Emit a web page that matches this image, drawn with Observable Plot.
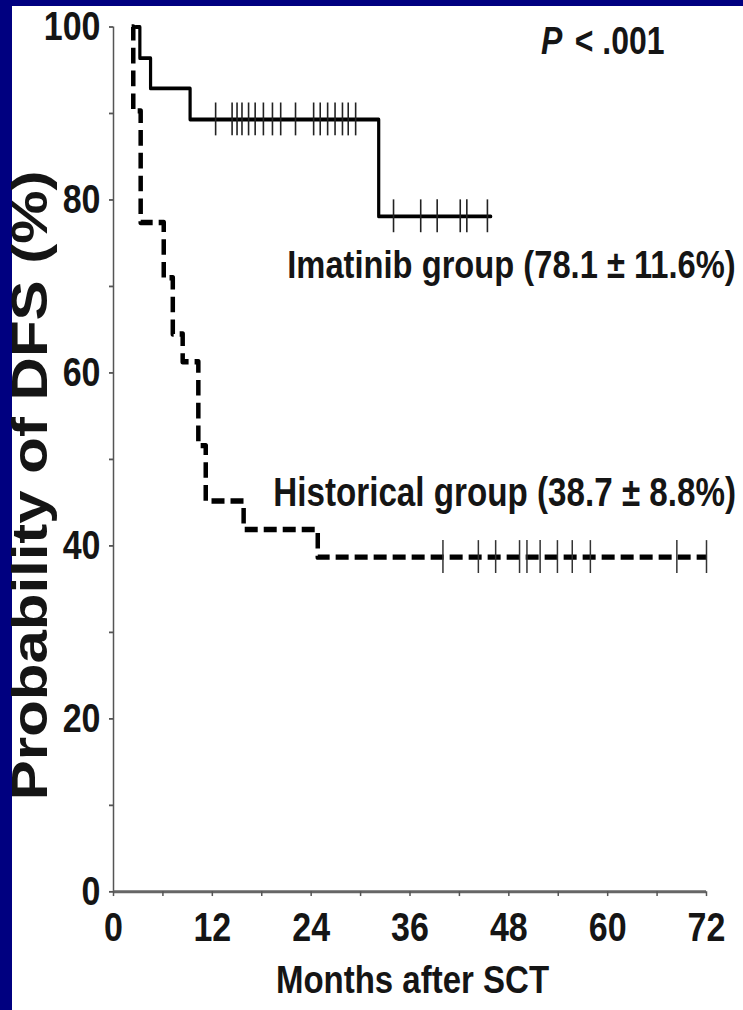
<!DOCTYPE html>
<html>
<head>
<meta charset="utf-8">
<script src="https://cdn.jsdelivr.net/npm/d3@7"></script>
<script src="https://cdn.jsdelivr.net/npm/@observablehq/plot@0.6"></script>
<style>
  html, body { margin: 0; padding: 0; background: #000080; width: 743px; height: 1010px; overflow: hidden; }
  #chart { position: absolute; left: 12px; top: 6px; width: 731px; height: 1004px; background: #fff; }
</style>
</head>
<body>
<div id="chart"></div>
<script>
// Imatinib group (solid) Kaplan–Meier steps
const imatinibMonths = [2.7, 3.2, 4.5, 9.3, 32.2, 45.8];
const imatinibDFS = [100, 96.4, 92.9, 89.3, 78.1, 78.1];
// censor marks for imatinib group
const imatinibCensor1 = [12.4, 14.4, 15.0, 15.6, 16.4, 17.2, 18.2, 19.3, 20.3, 22.1, 24.3, 25.1, 26.0, 26.9, 27.8, 28.5, 29.4];
const imatinibCensorLevel1 = 89.3;
const imatinibCensor2 = [34.0, 37.3, 39.3, 42.1, 42.9, 45.4];
const imatinibCensorLevel2 = 78.1;

// Historical group (dashed)
const historicalMonths = [2.2, 2.4, 3.3, 6.1, 7.2, 8.4, 10.3, 11.2, 15.8, 24.8, 72];
const historicalDFS = [100, 90.3, 77.4, 71.0, 64.5, 61.3, 51.6, 45.2, 41.9, 38.7, 38.7];
const historicalCensor = [40.0, 44.3, 46.4, 49.3, 50.2, 51.8, 53.9, 55.7, 57.9, 68.4, 72.0];
const historicalCensorLevel = 38.7;

// axes
const xTicks = [0, 6, 12, 18, 24, 30, 36, 42, 48, 54, 60, 66, 72];
const xLabels = [0, 12, 24, 36, 48, 60, 72];
const yTicks = [0, 10, 20, 30, 40, 50, 60, 70, 80, 90, 100];
const yLabels = [0, 20, 40, 60, 80, 100];

const xTitle = "Months after SCT";
const yTitle = "Probability of DFS (%)";
const pLetter = "P";
const pRest = "< .001";
const imatinibLabel = "Imatinib group (78.1 \u00b1 11.6%)";
const historicalLabel = "Historical group (38.7 \u00b1 8.8%)";

const imatinib = imatinibMonths.map((m, i) => ({month: m, dfs: imatinibDFS[i]}));
const historical = historicalMonths.map((m, i) => ({month: m, dfs: historicalDFS[i]}));

const font = "'Liberation Sans', Arial, Helvetica, sans-serif";
const ink = "#151515";

// The figure is drawn at a reduced height and stretched vertically,
// like the tall, condensed-looking lettering of the original scan.
const W = 731, H_OUT = 1004, H = 837;

const chart = Plot.plot({
  width: W,
  height: H,
  marginLeft: 101,
  marginRight: 37,
  marginTop: 17,
  marginBottom: 99,
  style: {fontFamily: font, fontWeight: "bold", background: "#fff", color: ink, overflow: "visible"},
  x: {domain: [0, 72], label: null},
  y: {domain: [0, 100], label: null},
  marks: [
    Plot.ruleX([0], {y1: 0, y2: 100, stroke: "#555", strokeWidth: 1.5}),
    Plot.ruleY([0], {x1: 0, x2: 72, stroke: "#666", strokeWidth: 2.5}),
    Plot.axisY(yTicks, {label: null, tickSize: 4, tickPadding: 9, stroke: "#555", strokeWidth: 1.5,
      tickFormat: d => yLabels.includes(d) ? String(d) : "", fontSize: 34, fill: ink}),
    Plot.axisX(xTicks, {label: null, tickSize: 4, tickPadding: 13, stroke: "#555", strokeWidth: 1.5,
      tickFormat: d => xLabels.includes(d) ? String(d) : "", fontSize: 34, fill: ink}),
    Plot.line(historical, {x: "month", y: "dfs", curve: "step-after", stroke: "#000",
      strokeWidth: 4.5, strokeDasharray: "13,6", strokeLinecap: "butt"}),
    Plot.ruleX(historicalCensor, {x: d => d, y1: historicalCensorLevel - 1.9, y2: historicalCensorLevel + 1.9, stroke: "#333", strokeWidth: 1.5}),
    Plot.line(imatinib, {x: "month", y: "dfs", curve: "step-after", stroke: "#000", strokeWidth: 3.2}),
    Plot.ruleX(imatinibCensor1, {x: d => d, y1: imatinibCensorLevel1 - 1.9, y2: imatinibCensorLevel1 + 1.9, stroke: "#222", strokeWidth: 1.6}),
    Plot.ruleX(imatinibCensor2, {x: d => d, y1: imatinibCensorLevel2 - 1.9, y2: imatinibCensorLevel2 + 1.9, stroke: "#222", strokeWidth: 1.6}),
    Plot.text([imatinibLabel], {x: 21.1, y: 72.4, text: d => d, textAnchor: "start", fontSize: 32.7, fill: ink}),
    Plot.text([historicalLabel], {x: 19.4, y: 46.1, text: d => d, textAnchor: "start", fontSize: 33.2, fill: ink}),
    Plot.text([pLetter], {x: 51.9, y: 98.3, text: d => d, textAnchor: "start", fontSize: 32, fontStyle: "italic", fill: ink}),
    Plot.text([pRest], {x: 56.0, y: 98.3, text: d => d, textAnchor: "start", fontSize: 32, fill: ink}),
    Plot.text([xTitle], {x: 36.3, frameAnchor: "bottom", dy: 84, text: d => d, fontSize: 33, fill: ink}),
    Plot.text([yTitle], {y: 47, frameAnchor: "left", textAnchor: "middle", dx: -83, rotate: -90, text: d => d, fontSize: 50, fill: ink})
  ]
});
chart.setAttribute("height", H_OUT);
chart.setAttribute("preserveAspectRatio", "none");
chart.style.width = W + "px";
chart.style.height = H_OUT + "px";
chart.style.maxWidth = "none";
document.getElementById("chart").appendChild(chart);
</script>
</body>
</html>
